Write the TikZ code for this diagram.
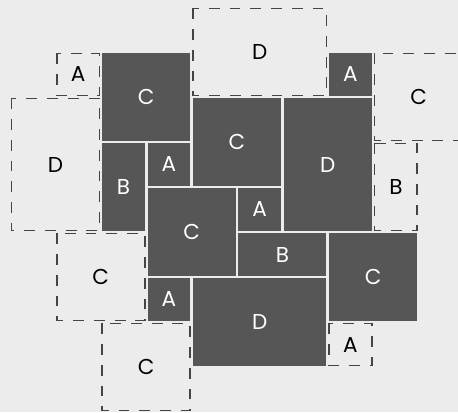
\documentclass[tikz,border=0pt]{standalone}
\usepackage{fontspec}
\setmainfont{Poppins}
\definecolor{bggray}{HTML}{ECECEC}
\definecolor{tilegray}{HTML}{565656}
\definecolor{ghostgray}{HTML}{444444}

\begin{document}
\begin{tikzpicture}[x=1cm,y=-0.9912cm,line join=miter,
  tile/.style={fill=tilegray},
  ghost/.style={draw=ghostgray,line width=1pt,dash pattern=on 6.8pt off 6.2pt},
  tilelbl/.style={text=white,font=\fontsize{13.5}{15}\selectfont},
  ghostlbl/.style={text=black,font=\fontsize{13.5}{15}\selectfont}]
  \fill[bggray] (-0.22,-0.156) rectangle (9.868,9);
  \useasboundingbox (-0.22,-0.156) rectangle (9.868,9);

  \draw[ghost] (1.03,1.03) rectangle (1.97,1.97);
  \draw[ghost] (0.03,2.03) rectangle (1.97,4.97);
  \draw[ghost] (4.03,0.03) rectangle (6.97,1.97);
  \draw[ghost] (8.03,1.03) rectangle (9.97,2.97);
  \draw[ghost] (8.03,3.03) rectangle (8.97,4.97);
  \draw[ghost] (1.03,5.03) rectangle (2.97,6.97);
  \draw[ghost] (2.03,7.03) rectangle (3.97,8.97);
  \draw[ghost] (7.03,7.03) rectangle (7.97,7.97);

  \fill[tile] (2.03,1.03) rectangle (3.97,2.97);
  \fill[tile] (2.03,3.03) rectangle (2.97,4.97);
  \fill[tile] (3.03,3.03) rectangle (3.97,3.97);
  \fill[tile] (4.03,2.03) rectangle (5.97,3.97);
  \fill[tile] (6.03,2.03) rectangle (7.97,4.97);
  \fill[tile] (7.03,1.03) rectangle (7.97,1.97);
  \fill[tile] (3.03,4.03) rectangle (4.97,5.97);
  \fill[tile] (5.03,4.03) rectangle (5.97,4.97);
  \fill[tile] (5.03,5.03) rectangle (6.97,5.97);
  \fill[tile] (7.03,5.03) rectangle (8.97,6.97);
  \fill[tile] (3.03,6.03) rectangle (3.97,6.97);
  \fill[tile] (4.03,6.03) rectangle (6.97,7.97);

  \node[ghostlbl] (ga1) at (1.5,1.5) {A};
  \node[ghostlbl] (gd1) at (1,3.5) {D};
  \node[ghostlbl] (gd2) at (5.5,1) {D};
  \node[ghostlbl] (gc1) at (9,2) {C};
  \node[ghostlbl] (gb1) at (8.5,4) {B};
  \node[ghostlbl] (gc2) at (2,6) {C};
  \node[ghostlbl] (gc3) at (3,8) {C};
  \node[ghostlbl] (ga2) at (7.5,7.5) {A};

  \node[tilelbl] (tc1) at (3,2) {C};
  \node[tilelbl] (tb1) at (2.5,4) {B};
  \node[tilelbl] (ta1) at (3.5,3.5) {A};
  \node[tilelbl] (tc2) at (5,3) {C};
  \node[tilelbl] (td1) at (7,3.5) {D};
  \node[tilelbl] (ta2) at (7.5,1.5) {A};
  \node[tilelbl] (tc3) at (4,5) {C};
  \node[tilelbl] (ta3) at (5.5,4.5) {A};
  \node[tilelbl] (tb2) at (6,5.5) {B};
  \node[tilelbl] (tc4) at (8,6) {C};
  \node[tilelbl] (ta4) at (3.5,6.5) {A};
  \node[tilelbl] (td2) at (5.5,7) {D};
\end{tikzpicture}
\end{document}
